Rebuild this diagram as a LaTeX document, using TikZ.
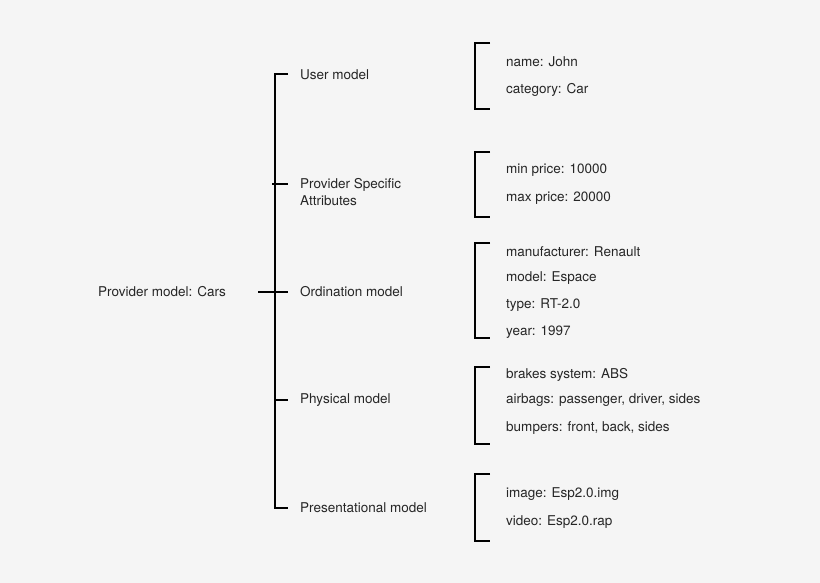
\documentclass[tikz,border=0pt]{standalone}
\usepackage{fontspec}
\setmainfont{TeX Gyre Heros}
\begin{document}
\begin{tikzpicture}[x=1pt,y=-1pt,
  lbl/.style={anchor=west,inner sep=0pt,font=\fontsize{13.5}{16.5}\selectfont,text=black!85,align=left},
  ln/.style={line width=1.6pt,black}]
\fill[black!4] (0,0) rectangle (820,583);
\useasboundingbox (0,0) rectangle (820,583);
\node[lbl] (root) at (98,292) {Provider model: Cars};
\node[lbl] (u) at (300,75) {User model};
\node[lbl] (p) at (300,192) {Provider Specific\\Attributes};
\node[lbl] (o) at (300,292) {Ordination model};
\node[lbl] (ph) at (300,400) {Physical model};
\node[lbl] (pr) at (300,508) {Presentational model};
\coordinate (vt) at (275,74); \coordinate (vb) at (275,508);
\draw[ln] (288,74) -- (vt) -- (vb) -- (288,508);
\draw[ln] (272,184) -- (288,184);
\draw[ln] (258,292) -- (288,292);
\draw[ln] (275,400) -- (288,400);
\foreach \a/\b in {43/109,152/217,243/338,367/444,474/541}
  \draw[ln] (490,\a) -- (475,\a) -- (475,\b) -- (490,\b);
\foreach \y/\t in {62/{name: John},90/{category: Car},170/{min price: 10000},198/{max price: 20000},
  252/{manufacturer: Renault},278/{model: Espace},305/{type: RT-2.0},332/{year: 1997},
  375/{brakes system: ABS},400/{airbags: passenger, driver, sides},428/{bumpers: front, back, sides},
  494/{image: Esp2.0.img},522/{video: Esp2.0.rap}}
  \node[lbl] at (506,\y) {\t};
\end{tikzpicture}
\end{document}
